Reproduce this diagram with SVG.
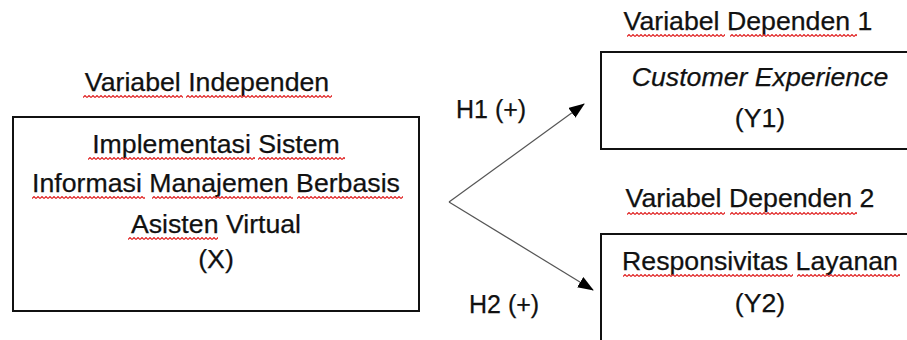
<svg xmlns="http://www.w3.org/2000/svg" width="907" height="340" viewBox="0 0 907 340">
  <style>
    .t { font-family: "Liberation Sans", Arial, sans-serif; font-size: 26.7px; fill: #111; stroke: #111; stroke-width: 0.25; }
    .h { font-size: 25px; }
    .c { text-anchor: middle; }
    .i { font-style: italic; }
    .box { fill: #fff; stroke: #111; stroke-width: 2; }
    .link { stroke: #555; stroke-width: 1.2; fill: none; }
    .sq { fill: url(#squiggle); }
  </style>
  <defs>
    <pattern id="squiggle" patternUnits="userSpaceOnUse" width="4" height="3">
      <path d="M0 2.5 L2 0.5 L4 2.5" stroke="#e02020" stroke-width="1.1" fill="none"/>
    </pattern>
    <marker id="head" markerUnits="userSpaceOnUse" markerWidth="16" markerHeight="12" refX="15" refY="6" orient="auto">
      <path d="M0 0 L16 6 L0 12 Z" fill="#000"/>
    </marker>
  </defs>
  <rect width="907" height="340" fill="#fff"/>

  <g id="connectors">
    <path class="link" d="M449 202 L584 104" marker-end="url(#head)"/>
    <path class="link" d="M449 202 L593 290" marker-end="url(#head)"/>
    <text class="t h" x="456" y="118">H1 (+)</text>
    <text class="t h" x="469" y="313">H2 (+)</text>
  </g>

  <g id="node-x">
    <text class="t c" x="207" y="91">Variabel Independen</text>
    <rect class="sq" transform="translate(83,95)" width="100" height="3"/>
    <rect class="sq" transform="translate(186,95)" width="146" height="3"/>
    <rect class="box" x="13" y="117" width="406" height="194"/>
    <text class="t c" x="216" y="153">Implementasi Sistem</text>
    <text class="t c" x="216" y="192">Informasi Manajemen Berbasis</text>
    <text class="t c" x="216" y="233">Asisten Virtual</text>
    <text class="t c" x="216" y="268">(X)</text>
    <rect class="sq" transform="translate(88,157)" width="167" height="3"/>
    <rect class="sq" transform="translate(258,157)" width="87" height="3"/>
    <rect class="sq" transform="translate(32,196)" width="113" height="3"/>
    <rect class="sq" transform="translate(152,196)" width="141" height="3"/>
    <rect class="sq" transform="translate(297,196)" width="106" height="3"/>
    <rect class="sq" transform="translate(128,237)" width="90" height="3"/>
  </g>

  <g id="node-y1">
    <text class="t c" x="748" y="30">Variabel Dependen 1</text>
    <rect class="sq" transform="translate(627,34)" width="98" height="3"/>
    <rect class="sq" transform="translate(730,34)" width="127" height="3"/>
    <rect class="box" x="601" y="52" width="320" height="97"/>
    <text class="t c i" x="760" y="86">Customer Experience</text>
    <text class="t c" x="760" y="127">(Y1)</text>
  </g>

  <g id="node-y2">
    <text class="t c" x="750" y="207">Variabel Dependen 2</text>
    <rect class="sq" transform="translate(627,212)" width="98" height="3"/>
    <rect class="sq" transform="translate(730,212)" width="127" height="3"/>
    <rect class="box" x="601" y="234" width="320" height="120"/>
    <text class="t c" x="760" y="270">Responsivitas Layanan</text>
    <text class="t c" x="760" y="312">(Y2)</text>
    <rect class="sq" transform="translate(623,274)" width="170" height="3"/>
    <rect class="sq" transform="translate(797,274)" width="103" height="3"/>
  </g>
</svg>
